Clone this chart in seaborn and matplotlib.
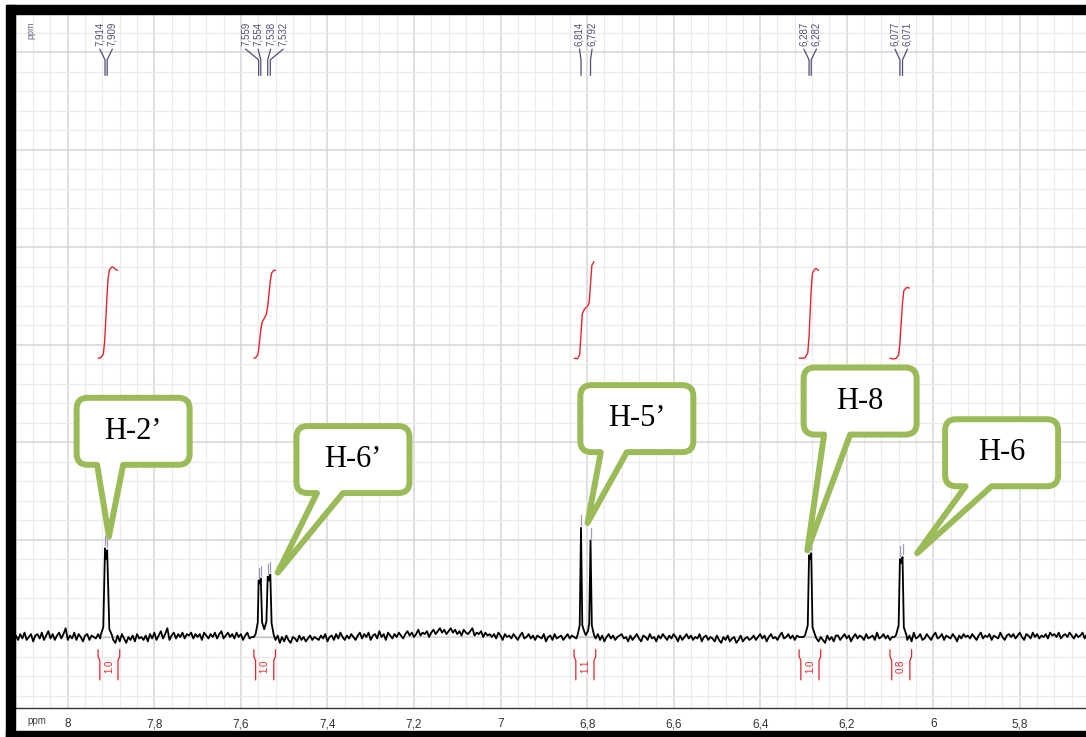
import matplotlib
matplotlib.use("Agg")
import matplotlib.pyplot as plt
import numpy as np
import pandas as pd
import seaborn as sns
from matplotlib.patches import PathPatch, Rectangle
from matplotlib.path import Path
from matplotlib.ticker import FixedLocator, MultipleLocator

# ---- data ----
# baseline trace, one value every 0.005 ppm starting at 8.12 ppm (units of 1/100)
BASE_START = 8.12
BASE_STEP = 0.005
baseline_noise = [
    1, -2, 2, -1, 3, -2, 0, 2, -3, 1, 2, -1, 3, -2, 1, 4, -1, 2, -2, 1,
    3, -1, 2, 6, -2, 1, -1, 3, -2, 2, 0, -3, 1, 2, -2, 1, 0, -1, 2, -1,
    0, 0, 0, 0, 0, -2, -4, 1, -3, 2, -1, -4, 0, -2, 1, -3, 2, -1, 0, -2,
    1, -3, 2, -1, 3, -2, 1, 4, -1, 2, 6, -2, 1, 3, -1, 2, 0, 3, -1, 2,
    1, 3, -1, 2, 0, 2, -2, 3, 1, -1, 2, 0, 3, -1, 2, 4, -1, 1, 3, 0,
    2, -1, 3, 0, 2, -2, 1, 3, -1, 0, 0, 0, 0, 0, 0, 0, 0, 0, 0, 0,
    -2, 1, -4, 0, -3, 1, -2, -4, 0, -1, -3, 1, -2, 0, -3, -1, 1, -2, 0, -1,
    -2, 1, -1, 2, -3, 0, 1, -2, 2, -1, 3, 0, -2, 1, -1, 2, 0, -2, 1, 3,
    -1, 2, 0, 3, -2, 1, 2, -1, 4, 0, 2, -2, 3, 1, -1, 2, 0, 3, 1, -1,
    2, 4, 1, 3, 0, 2, 5, 1, 3, 2, 4, 0, 3, 5, 2, 4, 6, 3, 5, 2,
    4, 6, 3, 5, 2, 4, 1, 5, 3, 2, 4, 6, 1, 3, 2, 4, 0, 3, 1, 2,
    0, 2, -1, 3, 1, -2, 2, 0, 1, -1, 2, 0, -2, 1, 3, -1, 0, 2, -1, 1,
    -2, 1, 0, -1, 2, -3, 0, 1, -2, 2, -1, 0, 1, -2, 0, 2, -1, 1, 0, -1,
    0, 0, 0, 0, 0, 0, 0, 0, -1, 2, -2, 1, -3, 0, 2, -1, 1, -2, 0, 1,
    2, -1, 0, -3, 1, -2, 0, 2, -1, -3, 1, 0, -2, 2, -1, 0, -3, 1, -1, 2,
    0, -2, 1, -1, 2, 0, -3, 1, -2, 0, 2, -1, 1, -2, 0, -1, 2, -3, 0, 1,
    -2, 0, -1, -3, 1, -2, -4, 0, -2, 1, -3, -1, 0, -4, -2, 1, -3, -1, 0, -2,
    -1, 1, -2, 0, 2, -1, 1, -3, 0, 2, -1, 0, -2, 1, 3, -1, 0, 2, -1, 1,
    -2, 1, 0, 0, 0, 0, 0, 0, 0, 0, -1, -3, 0, -2, -4, 1, -2, 0, -3, 1,
    1, -2, 0, 2, -1, 1, -3, 0, 2, -1, 1, 0, -2, 2, -1, 0, 1, -2, 3, -1,
    0, 2, -1, 1, -2, 0, 0, 0, 0, 0, 0, 0, -2, 1, -3, 3, -1, 0, 2, -2,
    -1, 2, 0, -2, 1, 3, -1, 0, 2, -2, 1, 0, -1, 2, 0, -3, 1, -1, 2, 0,
    1, -1, 2, 0, -2, 1, 3, -1, 1, 0, 2, -2, 1, 0, -1, 3, 0, -2, 1, 2,
    0, 2, -1, 1, 3, 0, -2, 2, 1, -1, 3, 0, 2, -1, 1, 0, 2, -1, 3, 1,
    2, 0, 3, -1, 1, 2, 0, 3, 1, -1, 2, 0, 1, 3, -1, 2, 1, 0, 2, 1,
]

# multiplets: chemical shift (ppm) and intensity
h2_ppm = [7.924, 7.918, 7.915, 7.914, 7.9115, 7.909, 7.907, 7.904, 7.898]
h2_int = [0.02, 0.10, 0.70, 0.91, 0.80, 0.89, 0.55, 0.08, 0.02]
h6p_ppm = [7.566, 7.561, 7.559, 7.5565, 7.554, 7.551, 7.546, 7.541, 7.538,
           7.535, 7.532, 7.529, 7.524]
h6p_int = [0.03, 0.15, 0.58, 0.55, 0.60, 0.15, 0.08, 0.16, 0.62, 0.58, 0.64,
           0.14, 0.02]
h5p_ppm = [6.822, 6.817, 6.814, 6.811, 6.806, 6.803, 6.798, 6.795, 6.792,
           6.789, 6.784]
h5p_int = [0.02, 0.12, 1.12, 0.12, 0.05, 0.02, 0.06, 0.14, 0.99, 0.12, 0.02]
h8_ppm = [6.296, 6.290, 6.287, 6.2845, 6.282, 6.279, 6.273]
h8_int = [0.02, 0.12, 0.84, 0.80, 0.86, 0.10, 0.02]
h6_ppm = [6.086, 6.080, 6.077, 6.074, 6.071, 6.068, 6.062]
h6_int = [0.02, 0.12, 0.80, 0.76, 0.82, 0.10, 0.02]

# picked peaks (top labels)
pick_groups = [
    [7.914, 7.909],
    [7.559, 7.554, 7.538, 7.532],
    [6.814, 6.792],
    [6.287, 6.282],
    [6.077, 6.071],
]

# integrals
integral_hi = [7.93, 7.57, 6.83, 6.31, 6.10]
integral_lo = [7.88, 7.52, 6.78, 6.26, 6.05]
integral_vals = [1.0, 1.0, 1.1, 1.0, 0.8]

# assignments
callout_labels = ["H-2\u2019", "H-6\u2019", "H-5\u2019", "H-8", "H-6"]

xtick_vals = [8.0, 7.8, 7.6, 7.4, 7.2, 7.0, 6.8, 6.6, 6.4, 6.2, 6.0, 5.8]
xtick_labels = ["8", "7,8", "7,6", "7,4", "7,2", "7", "6,8", "6,6", "6,4",
                "6,2", "6", "5,8"]

# ---- layout ----
callout_tip = [(7.905, 1.03), (7.515, 0.66), (6.799, 1.17), (6.291, 0.89),
               (6.037, 0.86)]
callout_center = [(7.849, 2.11), (7.341, 1.82), (6.685, 2.24), (6.169, 2.42),
                  (5.842, 1.89)]
GREEN = "#9bbb59"
PICK = "#4f4f75"
RED = "#e3262b"

# ---- build the trace ----
multiplets = [(h2_ppm, h2_int), (h6p_ppm, h6p_int), (h5p_ppm, h5p_int),
              (h8_ppm, h8_int), (h6_ppm, h6_int)]
base_ppm = BASE_START - BASE_STEP * np.arange(len(baseline_noise))
base_int = np.array(baseline_noise) * 0.015
keep = np.ones(len(base_ppm), dtype=bool)
for mp, _ in multiplets:
    keep &= ~((base_ppm <= max(mp)) & (base_ppm >= min(mp)))
ppm = np.concatenate([base_ppm[keep]] + [np.array(m[0]) for m in multiplets])
inten = np.concatenate([base_int[keep]] + [np.array(m[1]) for m in multiplets])
order = np.argsort(-ppm)
spec = pd.DataFrame({"ppm": ppm[order], "intensity": inten[order]})

sns.set_style("white")
plt.rcParams["font.family"] = ["Liberation Sans", "DejaVu Sans"]

fig = plt.figure(figsize=(10.86, 7.37), dpi=100)
ax = fig.add_axes([15 / 1086, 29 / 737, 1071 / 1086, 694 / 737])

sns.lineplot(data=spec, x="ppm", y="intensity", sort=False, estimator=None,
             color="black", linewidth=1.3, ax=ax, legend=False, zorder=3)
ax.set_xlabel("")
ax.set_ylabel("")
ax.set_xlim(8.122, 5.647)
ax.set_ylim(-0.728, 6.39)

# grid
ax.xaxis.set_major_locator(FixedLocator(xtick_vals))
ax.set_xticklabels(xtick_labels)
ax.xaxis.set_minor_locator(MultipleLocator(0.04))
ax.yaxis.set_major_locator(MultipleLocator(1))
ax.yaxis.set_minor_locator(MultipleLocator(0.2))
ax.grid(True, which="major", color="#d6d6d6", lw=1.1)
ax.grid(True, which="minor", color="#ebebeb", lw=0.9)
ax.set_axisbelow(True)
for s in ["top", "right", "left"]:
    ax.spines[s].set_visible(False)
ax.spines["bottom"].set_color("#333333")
ax.spines["bottom"].set_linewidth(1.0)
ax.tick_params(axis="x", which="major", direction="out", length=6, width=0.8,
               color="#333333", labelsize=8.5, labelcolor="#333333", pad=1.5)
ax.tick_params(axis="x", which="minor", direction="out", length=3.5,
               width=0.8, color="#333333")
ax.tick_params(axis="y", which="both", left=False, labelleft=False)

ax.text(8.072, -0.86, "ppm", fontsize=7, color="#444444", ha="center",
        va="center", clip_on=False)
ax.text(8.085, 6.22, "ppm", fontsize=6.5, color="#666677", rotation=90,
        ha="center", va="center")

# integrals
for hi, lo, val in zip(integral_hi, integral_lo, integral_vals):
    m = (spec.ppm <= hi) & (spec.ppm >= lo)
    x = spec.ppm[m].to_numpy()
    y = spec.intensity[m].to_numpy()
    area = np.concatenate([[0], np.cumsum((y[1:] + y[:-1]) / 2 * np.abs(np.diff(x)))])
    curve = 2.86 + area / area[-1] * val * 0.9
    ax.plot(x, curve, color=RED, lw=1.0, zorder=3)
    ax.plot([hi, lo], [0, 0], color="#c8c8c8", lw=1.0, zorder=2)
    d = 0.004
    ax.plot([hi, hi, hi - d, hi - d], [-0.13, -0.20, -0.24, -0.44],
            color=RED, lw=0.9)
    ax.plot([lo, lo, lo + d, lo + d], [-0.13, -0.20, -0.24, -0.44],
            color=RED, lw=0.9)
    ax.text((hi + lo) / 2, -0.30, f"{val:.1f}", color=RED, fontsize=7,
            rotation=90, ha="center", va="center")

# peak picking labels
step = 0.029
for group in pick_groups:
    c = np.mean(group)
    n = len(group)
    for i, p in enumerate(group):
        lx = c + ((n - 1) / 2 - i) * step
        ax.text(lx, 6.06, f"{p:.3f}".replace(".", ","), rotation=90,
                fontsize=7, color=PICK, ha="center", va="bottom")
        ax.plot([lx, p, p], [6.03, 5.92, 5.76], color=PICK, lw=0.9)
        top = np.interp(p, spec.ppm[::-1], spec.intensity[::-1])
        ax.plot([p, p], [top + 0.03, top + 0.13], color="#9a9abb", lw=0.9,
                zorder=4)


# callouts (speech bubbles)
def bubble(ax, label, tip, center, w=113, h=67, r=11, base=(-36, -10)):
    cx, cy = ax.transData.transform(center)
    tx, ty = ax.transData.transform(tip)
    L, R, B, T = cx - w / 2, cx + w / 2, cy - h / 2, cy + h / 2
    b0, b1 = cx + base[0], cx + base[1]
    verts = [(L + r, B), (b0, B), (tx, ty), (b1, B), (R - r, B),
             (R, B), (R, B + r), (R, T - r), (R, T), (R - r, T),
             (L + r, T), (L, T), (L, T - r), (L, B + r), (L, B), (L + r, B),
             (L + r, B)]
    codes = [Path.MOVETO, Path.LINETO, Path.LINETO, Path.LINETO, Path.LINETO,
             Path.CURVE3, Path.CURVE3, Path.LINETO, Path.CURVE3, Path.CURVE3,
             Path.LINETO, Path.CURVE3, Path.CURVE3, Path.LINETO, Path.CURVE3,
             Path.CURVE3, Path.CLOSEPOLY]
    dverts = ax.transData.inverted().transform(verts)
    patch = PathPatch(Path(dverts, codes), facecolor="white", edgecolor=GREEN,
                      lw=4.3, joinstyle="round", zorder=6, clip_on=False)
    ax.add_patch(patch)
    ax.text(center[0], center[1], label, fontsize=22,
            family=["Liberation Serif", "DejaVu Serif"], color="black",
            ha="center", va="center", zorder=7)


for lab, tip, cen in zip(callout_labels, callout_tip, callout_center):
    bubble(ax, lab, tip, cen)

# black frame of the screenshot
W, H = 1086, 737
for (x0, y0, w, h) in [(7, H - 14, W - 7, 9), (6, 0, 9, H - 5), (6, 0, W - 6, 6)]:
    fig.add_artist(Rectangle((x0 / W, y0 / H), w / W, h / H,
                             transform=fig.transFigure, color="black",
                             zorder=10))

fig.savefig("out.png", dpi=100, facecolor="white")
